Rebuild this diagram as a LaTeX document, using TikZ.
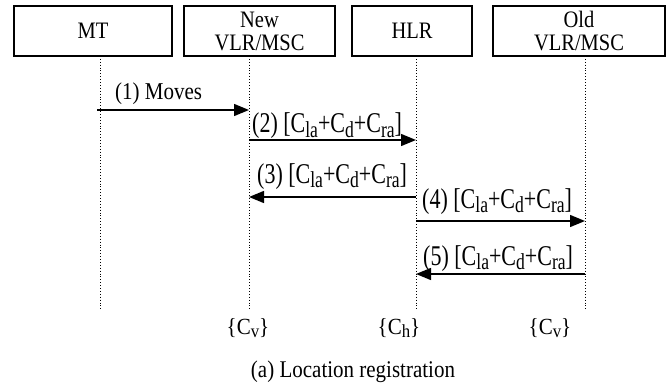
\documentclass[tikz,border=0pt]{standalone}
\usepackage{fontspec}
\usepackage{graphicx}
\setmainfont{Liberation Serif}
\usetikzlibrary{arrows.meta}
\newcommand\sbx[1]{\raisebox{-0.16em}{\scalebox{0.8}{#1}}}
\newcommand\vst[2]{\scalebox{1}[#1]{#2}}
\newcommand\costlbl{[C\sbx{la}+C\sbx{d}+C\sbx{ra}]}
\begin{document}
\begin{tikzpicture}[x=1pt,y=-1pt,
 ent/.style={draw,line width=1.6pt,minimum height=50pt,inner sep=0pt,align=center,font=\fontsize{20.5}{23}\selectfont},
 life/.style={dotted,line width=0.9pt},
 msg/.style={line width=1.4pt,-{Triangle[length=15pt,width=12pt]}},
 lbl/.style={font=\fontsize{22}{24}\selectfont,inner sep=0pt,anchor=base west},
 txt/.style={font=\fontsize{21}{24}\selectfont,inner sep=0pt},
]
\useasboundingbox (0,0) rectangle (672,385);
% entities
\node[ent,minimum width=158pt] (mt) at (93,31) {\vst{1.15}{MT}};
\node[ent,minimum width=151pt] (nv) at (259.5,31) {\vst{1.15}{New}\\\vst{1.15}{VLR/MSC}};
\node[ent,minimum width=120pt] (hlr) at (412,31) {\vst{1.15}{HLR}};
\node[ent,minimum width=172pt] (ov) at (579,31) {\vst{1.15}{Old}\\\vst{1.15}{VLR/MSC}};
% lifelines
\coordinate (mtT) at (100,56); \coordinate (mtB) at (100,310);
\coordinate (nvT) at (249,56); \coordinate (nvB) at (249,310);
\coordinate (hT) at (416,56); \coordinate (hB) at (416,310);
\coordinate (oT) at (585,56); \coordinate (oB) at (585,310);
\draw[life] (mtT) -- (mtB);
\draw[life] (nvT) -- (nvB);
\draw[life] (hT) -- (hB);
\draw[life] (oT) -- (oB);
% message endpoints
\coordinate (m1a) at (97,110); \coordinate (m1b) at (249,110);
\coordinate (m2a) at (249,140); \coordinate (m2b) at (416,140);
\coordinate (m3a) at (416,197); \coordinate (m3b) at (249,197);
\coordinate (m4a) at (416,221); \coordinate (m4b) at (585,221);
\coordinate (m5a) at (585,274); \coordinate (m5b) at (416,274);
\draw[msg] (m1a) -- (m1b);
\draw[msg] (m2a) -- (m2b);
\draw[msg] (m3a) -- (m3b);
\draw[msg] (m4a) -- (m4b);
\draw[msg] (m5a) -- (m5b);
% labels
\node[lbl,font=\fontsize{21}{24}\selectfont] (l1) at (115,100) {\vst{1.15}{(1) Moves}};
\node[lbl] (l2) at (252,133) {\vst{1.3}{(2) \costlbl}};
\node[lbl] (l3) at (257,183) {\vst{1.3}{(3) \costlbl}};
\node[lbl] (l4) at (422,208) {\vst{1.3}{(4) \costlbl}};
\node[lbl] (l5) at (423,265) {\vst{1.3}{(5) \costlbl}};
% state labels
\node[txt] (s1) at (248,328) {\vst{1.1}{\{C\sbx{v}\}}};
\node[txt] (s2) at (399,328) {\vst{1.1}{\{C\sbx{h}\}}};
\node[txt] (s3) at (550,328) {\vst{1.1}{\{C\sbx{v}\}}};
\node[txt] (caption) at (353,372) {\vst{1.14}{(a) Location registration}};
\end{tikzpicture}
\end{document}
